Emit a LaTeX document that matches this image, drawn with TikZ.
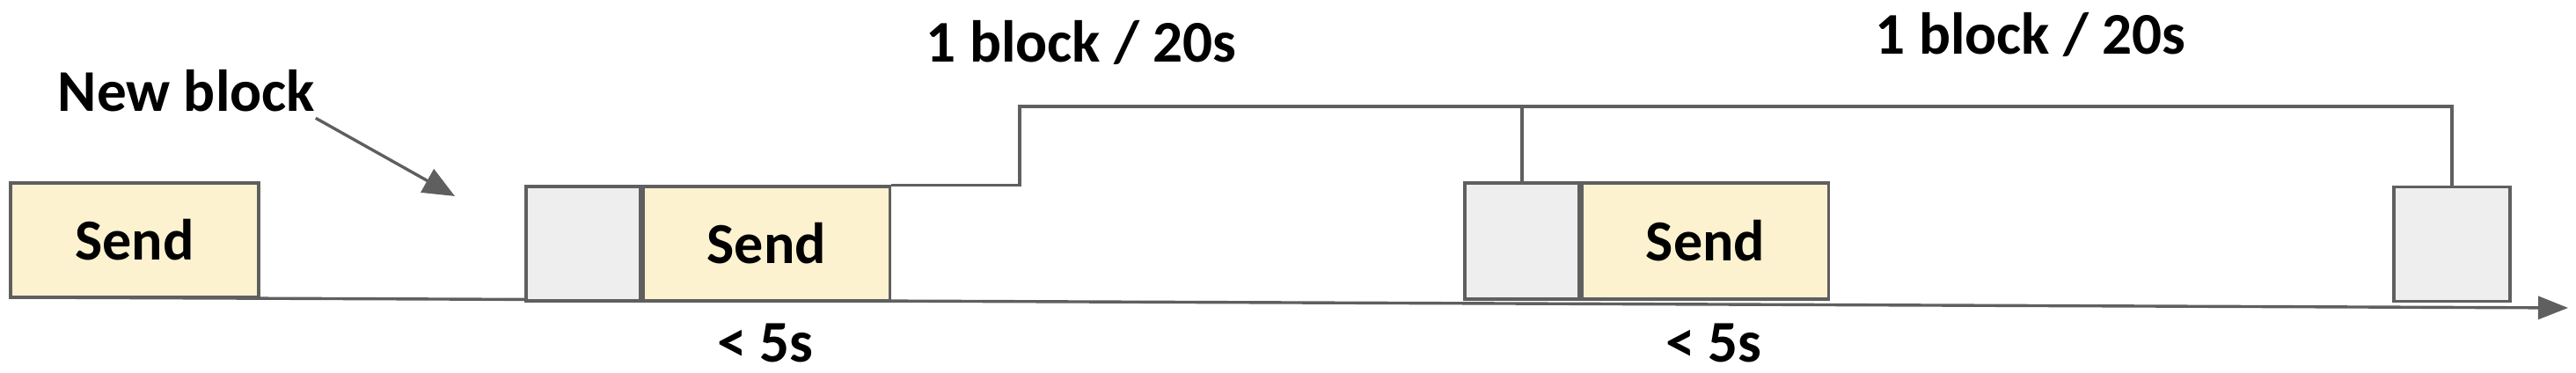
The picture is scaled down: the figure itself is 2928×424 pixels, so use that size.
\documentclass[tikz,border=0pt]{standalone}
\usepackage{fontspec}
\setmainfont{Carlito}
\usetikzlibrary{arrows.meta}
\definecolor{linegray}{RGB}{95,95,95}
\definecolor{sendfill}{RGB}{252,242,208}
\definecolor{idlefill}{RGB}{238,238,238}
\begin{document}
\begin{tikzpicture}[x=0.25pt,y=-0.25pt,
  box/.style={draw=linegray, line width=0.85pt, minimum height=32.5pt, inner sep=0pt, font=\fontsize{16.5}{20}\selectfont\bfseries},
  sendbox/.style={box, fill=sendfill, minimum width=70pt},
  idlebox/.style={box, fill=idlefill, minimum width=32.5pt},
  lbl/.style={font=\fontsize{16.8}{20}\selectfont\bfseries, inner sep=0pt, anchor=base},
  conn/.style={draw=linegray, line width=0.85pt},
]
\useasboundingbox (0,0) rectangle (2928,424);
% timeline
\coordinate (t0) at (11,338);
\coordinate (tl) at (2919,350);
\draw[conn, -{Triangle[length=8.5pt,width=6.5pt]}] (t0) -- (tl);
% boxes
\node[sendbox, minimum width=70.5pt] (s1) at (153,273) {Send};
\node[idlebox] (g2) at (663,277) {};
\node[sendbox, anchor=west] (s2) at (g2.east) {Send};
\node[idlebox, minimum height=33pt] (g3) at (1730,274) {};
\node[sendbox, minimum height=33pt, anchor=west] (s3) at (g3.east) {Send};
\node[idlebox, minimum width=33pt] (g4) at (2787,277.5) {};
% block interval lines
\coordinate (k1) at (1159,121);
\draw[conn] (s2.north east) -| (k1) -| (g4.north);
\draw[conn] (g3.north) -- (g3.north |- k1);
% labels
\node[lbl] (nb) at (212,127) {New block};
\coordinate (nbt) at (517,223);
\draw[conn, -{Triangle[length=9pt,width=7.5pt]}] ([shift={(0,6)}]nb.south east) -- (nbt);
\node[lbl] (r1) at (1229,71) {1 block / 20s};
\node[lbl] (r2) at (2308,62) {1 block / 20s};
\node[lbl] (d1) at (870,412) {< 5s};
\node[lbl] (d2) at (1948,412) {< 5s};
\end{tikzpicture}
\end{document}
